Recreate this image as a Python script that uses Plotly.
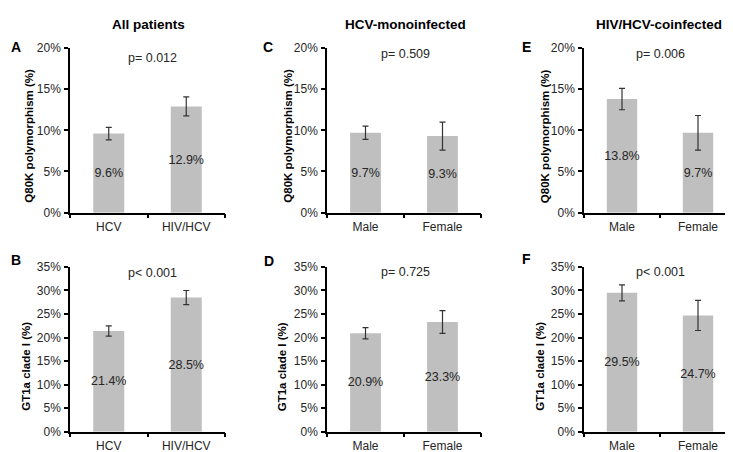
import plotly.graph_objects as go

W, H = 733, 452

# ---- data ----
cats_all = ["HCV", "HIV/HCV"]
cats_sex = ["Male", "Female"]

q80k_all = [9.6, 12.9]
q80k_all_err = [0.75, 1.15]
clade_all = [21.4, 28.5]
clade_all_err = [1.1, 1.5]

q80k_mono = [9.7, 9.3]
q80k_mono_err = [0.8, 1.7]
clade_mono = [20.9, 23.3]
clade_mono_err = [1.2, 2.4]

q80k_co = [13.8, 9.7]
q80k_co_err = [1.3, 2.1]
clade_co = [29.5, 24.7]
clade_co_err = [1.7, 3.2]

pvals = ["p= 0.012", "p< 0.001", "p= 0.509", "p= 0.725", "p= 0.006", "p< 0.001"]
col_titles = ["All patients", "HCV-monoinfected", "HIV/HCV-coinfected"]
panel_letters = ["A", "B", "C", "D", "E", "F"]
ytitle_top = "Q80K polymorphism (%)"
ytitle_bot = "GT1a clade I (%)"

FONT = "Liberation Sans, Arial, sans-serif"
BAR = "#bfbfbf"
TXT = "#262626"
TICK_SIZE = 12
LABEL_SIZE = 12.5

# panels: (cats, values, errors, row, col)
panels = [
    (cats_all, q80k_all, q80k_all_err, 0, 0),
    (cats_all, clade_all, clade_all_err, 1, 0),
    (cats_sex, q80k_mono, q80k_mono_err, 0, 1),
    (cats_sex, clade_mono, clade_mono_err, 1, 1),
    (cats_sex, q80k_co, q80k_co_err, 0, 2),
    (cats_sex, clade_co, clade_co_err, 1, 2),
]

xdom_px = [(62, 217), (319, 473), (576, 728)]
ydom_px = [(34, 204), (260, 430)]  # top, bottom in px from top
yranges = [20, 35]

fig = go.Figure()
layout = dict(
    width=W, height=H,
    margin=dict(l=0, r=0, t=0, b=0),
    paper_bgcolor="white", plot_bgcolor="white",
    showlegend=False,
    font=dict(family=FONT, size=12, color=TXT),
    uniformtext=dict(minsize=LABEL_SIZE, mode="show"),
)

annotations = []
for i, (cats, vals, errs, r, c) in enumerate(panels):
    n = i + 1
    xa = "x" if n == 1 else f"x{n}"
    ya = "y" if n == 1 else f"y{n}"
    fig.add_trace(go.Bar(
        x=cats, y=vals, width=0.4,
        marker=dict(color=BAR, line=dict(width=0)),
        error_y=dict(type="data", array=errs, visible=True,
                     color="#333333", thickness=1.2, width=3),
        text=[f"{v}%" for v in vals],
        textposition="inside", insidetextanchor="middle", textangle=0,
        textfont=dict(family=FONT, size=LABEL_SIZE, color=TXT),
        xaxis=xa, yaxis=ya, hoverinfo="skip",
    ))
    x0, x1 = xdom_px[c]
    yt, yb = ydom_px[r]
    ymax = yranges[r]
    layout["xaxis" if n == 1 else f"xaxis{n}"] = dict(
        domain=[x0 / W, x1 / W], anchor=ya, type="category",
        range=[-0.5, 1.5], tickson="boundaries",
        ticks="outside", ticklen=4, tickwidth=1.5, tickcolor="black",
        showline=True, linecolor="black", linewidth=1.5,
        showgrid=False, zeroline=False, ticklabelstandoff=2,
        tickfont=dict(family=FONT, size=TICK_SIZE, color=TXT),
    )
    layout["yaxis" if n == 1 else f"yaxis{n}"] = dict(
        domain=[(H - yb) / H, (H - yt) / H], anchor=xa,
        range=[0, ymax], dtick=5, ticksuffix="%",
        ticks="outside", ticklen=4, tickwidth=1.5, tickcolor="black",
        showline=True, linecolor="black", linewidth=1.5,
        showgrid=False, zeroline=False, ticklabelstandoff=1,
        tickfont=dict(family=FONT, size=TICK_SIZE, color=TXT),
    )

# column titles
for txt, cx in zip(col_titles, [140, 397, 651]):
    annotations.append(dict(text=f"<b>{txt}</b>", x=cx / W, y=(H - 10) / H,
                            xref="paper", yref="paper", showarrow=False,
                            xanchor="center", yanchor="middle",
                            font=dict(family=FONT, size=13.5, color="black")))

# panel letters
letter_pos = [(8, 33), (8, 253), (260, 33), (261, 254), (518, 33), (518, 252)]
for L, (px, py) in zip(panel_letters, letter_pos):
    annotations.append(dict(text=f"<b>{L}</b>", x=px / W, y=(H - py) / H,
                            xref="paper", yref="paper", showarrow=False,
                            xanchor="center", yanchor="middle",
                            font=dict(family=FONT, size=14, color="black")))

# p-values
p_pos = [(144, 44), (144, 266.5), (397, 40), (397, 265.5), (652, 40), (652, 265.5)]
for t, (px, py) in zip(pvals, p_pos):
    annotations.append(dict(text=t, x=px / W, y=(H - py) / H,
                            xref="paper", yref="paper", showarrow=False,
                            xanchor="center", yanchor="middle",
                            font=dict(family=FONT, size=12.5, color=TXT)))

# y-axis titles
yt_pos = [(21.5, 125, ytitle_top), (18, 363, ytitle_bot),
          (280.5, 125, ytitle_top), (273.5, 363, ytitle_bot),
          (537, 125, ytitle_top), (532, 363, ytitle_bot)]
for px, py, t in yt_pos:
    annotations.append(dict(text=f"<b>{t}</b>", x=px / W, y=(H - py) / H,
                            xref="paper", yref="paper", showarrow=False,
                            textangle=-90, xanchor="center", yanchor="middle",
                            font=dict(family=FONT, size=11.5, color="black")))

layout["annotations"] = annotations
fig.update_layout(**layout)
fig.write_html("out.html")
